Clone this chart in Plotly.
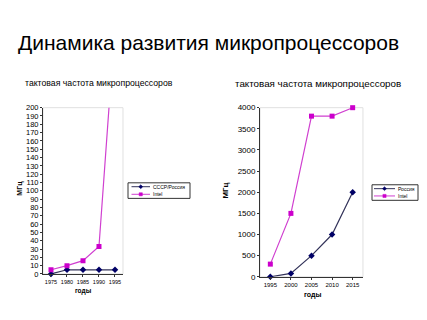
import plotly.graph_objects as go

# Left chart data
years_left = ["1975", "1980", "1985", "1990", "1995"]
ussr_left = [0, 5, 5, 5, 5]
intel_left = [5, 10, 16, 33, 300]

# Right chart data
years_right = ["1995", "2000", "2005", "2010", "2015"]
russia_right = [0, 80, 500, 1000, 2000]
intel_right = [300, 1500, 3800, 3800, 4000]

title_text = "Динамика развития микропроцессоров"
sub_text = "тактовая частота микропроцессоров"
legend_left = ["СССР/Россия", "Intel"]
legend_right = ["Россия", "Intel"]

NAVY = "#000066"
NAVY_LINE = "#33335a"
MAG = "#cc00cc"
MAG_LINE = "#d040d0"
FONT = "Liberation Sans, Arial, sans-serif"
W, H = 427, 320

fig = go.Figure()

fig.add_trace(go.Scatter(x=years_left, y=ussr_left, name=legend_left[0], mode="lines+markers",
                         line=dict(color=NAVY_LINE, width=1.2),
                         marker=dict(symbol="diamond", size=5, color=NAVY),
                         xaxis="x", yaxis="y", cliponaxis=False))
fig.add_trace(go.Scatter(x=years_left, y=intel_left, name=legend_left[1], mode="lines+markers",
                         line=dict(color=MAG_LINE, width=1.2),
                         marker=dict(symbol="square", size=5, color=MAG),
                         xaxis="x", yaxis="y"))
fig.add_trace(go.Scatter(x=years_right, y=russia_right, name=legend_right[0], mode="lines+markers",
                         line=dict(color=NAVY_LINE, width=1.2),
                         marker=dict(symbol="diamond", size=5, color=NAVY),
                         xaxis="x2", yaxis="y2", cliponaxis=False))
fig.add_trace(go.Scatter(x=years_right, y=intel_right, name=legend_right[1], mode="lines+markers",
                         line=dict(color=MAG_LINE, width=1.2),
                         marker=dict(symbol="square", size=5, color=MAG),
                         xaxis="x2", yaxis="y2", cliponaxis=False))

axis_common = dict(showgrid=False, zeroline=False, showline=True, linecolor="#333333",
                   linewidth=1, ticks="outside", ticklen=2, tickcolor="#333333")

fig.update_layout(
    width=W, height=H,
    margin=dict(l=0, r=0, t=0, b=0),
    paper_bgcolor="white", plot_bgcolor="white",
    font=dict(family=FONT, color="#000000"),
    showlegend=False,
    xaxis=dict(domain=[0.1007, 0.288], anchor="y", type="category", range=[-0.5, 4.5],
               tickfont=dict(size=5.5), **axis_common),
    yaxis=dict(domain=[0.132, 0.6666], anchor="x", range=[0, 200], dtick=10,
               tickfont=dict(size=7.5), **axis_common),
    xaxis2=dict(domain=[0.609, 0.850], anchor="y2", type="category", range=[-0.5, 4.5],
                tickfont=dict(size=6), **axis_common),
    yaxis2=dict(domain=[0.1228, 0.6666], anchor="x2", range=[0, 4000], dtick=500,
                tickfont=dict(size=8), **axis_common),
)

# faint frames around plot areas
for xr, yr in (("x domain", "y domain"), ("x2 domain", "y2 domain")):
    fig.add_shape(type="rect", xref=xr, yref=yr, x0=0, x1=1, y0=0, y1=1,
                  line=dict(color="#e0e0e0", width=1), layer="below")


def px(x):
    return x / W


def py(y):
    return 1 - y / H


def add_legend(box, items, labels):
    x0, y0, x1, y1 = box
    fig.add_shape(type="rect", xref="paper", yref="paper", x0=px(x0), x1=px(x1),
                  y0=py(y1), y1=py(y0), line=dict(color="#333333", width=1),
                  fillcolor="white")
    for (ly, lx0, lx1, kind, col, lcol), lab in zip(items, labels):
        fig.add_shape(type="line", xref="paper", yref="paper", x0=px(lx0), x1=px(lx1),
                      y0=py(ly), y1=py(ly), line=dict(color=lcol, width=1))
        mx = (lx0 + lx1) / 2
        if kind == "diamond":
            path = (f"M {px(mx)},{py(ly - 2)} L {px(mx + 2)},{py(ly)} "
                    f"L {px(mx)},{py(ly + 2)} L {px(mx - 2)},{py(ly)} Z")
            fig.add_shape(type="path", xref="paper", yref="paper", path=path,
                          fillcolor=col, line=dict(color=col, width=0.5))
        else:
            fig.add_shape(type="rect", xref="paper", yref="paper", x0=px(mx - 1.6),
                          x1=px(mx + 1.6), y0=py(ly + 1.6), y1=py(ly - 1.6),
                          fillcolor=col, line=dict(color=col, width=0.5))
        fig.add_annotation(xref="paper", yref="paper", x=px(lx1 + 1.5), y=py(ly),
                           text=lab, showarrow=False, xanchor="left", yanchor="middle",
                           font=dict(size=5), borderpad=0)


add_legend((128, 184, 190, 200),
           [(188, 131.5, 150, "diamond", NAVY, NAVY_LINE),
            (195.8, 131.5, 150, "square", MAG, MAG_LINE)],
           legend_left)
add_legend((372, 186, 418, 202),
           [(190, 374, 395, "diamond", NAVY, NAVY_LINE),
            (197.5, 374, 395, "square", MAG, MAG_LINE)],
           legend_right)

ann = [
    dict(text=title_text, x=px(16), y=py(39.5), xanchor="left", yanchor="middle",
         font=dict(size=21)),
    dict(text=sub_text, x=px(23), y=py(81.5), xanchor="left", yanchor="middle",
         font=dict(size=8.7)),
    dict(text=sub_text, x=px(233), y=py(81.5), xanchor="left", yanchor="middle",
         font=dict(size=9.8)),
    dict(text="<b>МГц</b>", x=px(20), y=py(190), textangle=-90, xanchor="center",
         yanchor="middle", font=dict(size=7)),
    dict(text="<b>МГц</b>", x=px(226), y=py(192), textangle=-90, xanchor="center",
         yanchor="middle", font=dict(size=8)),
    dict(text="<b>годы</b>", x=px(83), y=py(295), xanchor="center", yanchor="middle",
         font=dict(size=6.5)),
    dict(text="<b>годы</b>", x=px(312), y=py(299), xanchor="center", yanchor="middle",
         font=dict(size=7)),
]
for a in ann:
    fig.add_annotation(xref="paper", yref="paper", showarrow=False, **a)

fig.write_html("out.html")
